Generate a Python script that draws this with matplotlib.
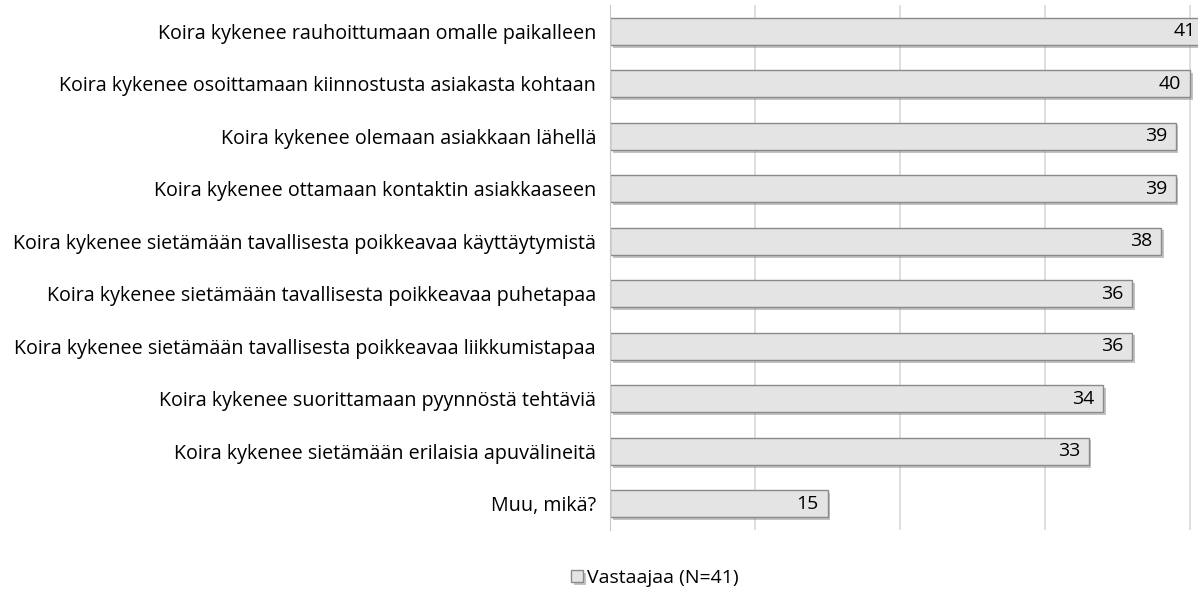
import matplotlib
matplotlib.use("Agg")
from matplotlib import pyplot as plt
from matplotlib import patheffects as pe

# answers to the question, top to bottom
categories = [
    "Koira kykenee rauhoittumaan omalle paikalleen",
    "Koira kykenee osoittamaan kiinnostusta asiakasta kohtaan",
    "Koira kykenee olemaan asiakkaan lähellä",
    "Koira kykenee ottamaan kontaktin asiakkaaseen",
    "Koira kykenee sietämään tavallisesta poikkeavaa käyttäytymistä",
    "Koira kykenee sietämään tavallisesta poikkeavaa puhetapaa",
    "Koira kykenee sietämään tavallisesta poikkeavaa liikkumistapaa",
    "Koira kykenee suorittamaan pyynnöstä tehtäviä",
    "Koira kykenee sietämään erilaisia apuvälineitä",
    "Muu, mikä?",
]
counts = [41, 40, 39, 39, 38, 36, 36, 34, 33, 15]
series_name = "Vastaajaa (N=41)"

plt.rcParams['font.family'] = ['Open Sans', 'DejaVu Sans']

fig = plt.figure(figsize=(11.98, 5.96), dpi=100)
ax = fig.add_axes([610 / 1198, 1 - 530 / 596, 588 / 1198, 525 / 596])

ypos = list(range(len(categories)))
bars = ax.barh(ypos, counts, height=0.52, color="#e4e4e4",
               edgecolor="#8a8a8a", linewidth=1.0, zorder=3,
               label=series_name)
for b in bars:
    b.set_path_effects([pe.SimplePatchShadow(offset=(2, -2), shadow_rgbFace="#888888", alpha=0.5),
                        pe.Normal()])

for y, v in zip(ypos, counts):
    ax.text(v - 0.6, y, str(v), ha="right", va="center", fontsize=14, zorder=4)

ax.set_ylim(len(categories) - 0.5, -0.5)
ax.set_xlim(0, 40.55)
ax.set_xticks([0, 10, 20, 30, 40])
ax.set_xticklabels([])
ax.set_yticks(ypos)
ax.set_yticklabels(categories, fontsize=14.2)
ax.tick_params(axis="y", length=0, pad=10)
ax.tick_params(axis="x", length=0)
ax.grid(axis="x", color="#d9d9d9", linewidth=1.2, zorder=0)
for s in ["top", "right", "bottom"]:
    ax.spines[s].set_visible(False)
ax.spines["left"].set_color("#c8c8c8")
ax.spines["left"].set_zorder(5)

fig.legend(handles=[bars], labels=[series_name], loc="center",
           bbox_to_anchor=(655 / 1198, 1 - 578 / 596), frameon=False,
           fontsize=14, handlelength=0.6, handleheight=0.6, handletextpad=0.2)

fig.savefig("out.png", dpi=100)
